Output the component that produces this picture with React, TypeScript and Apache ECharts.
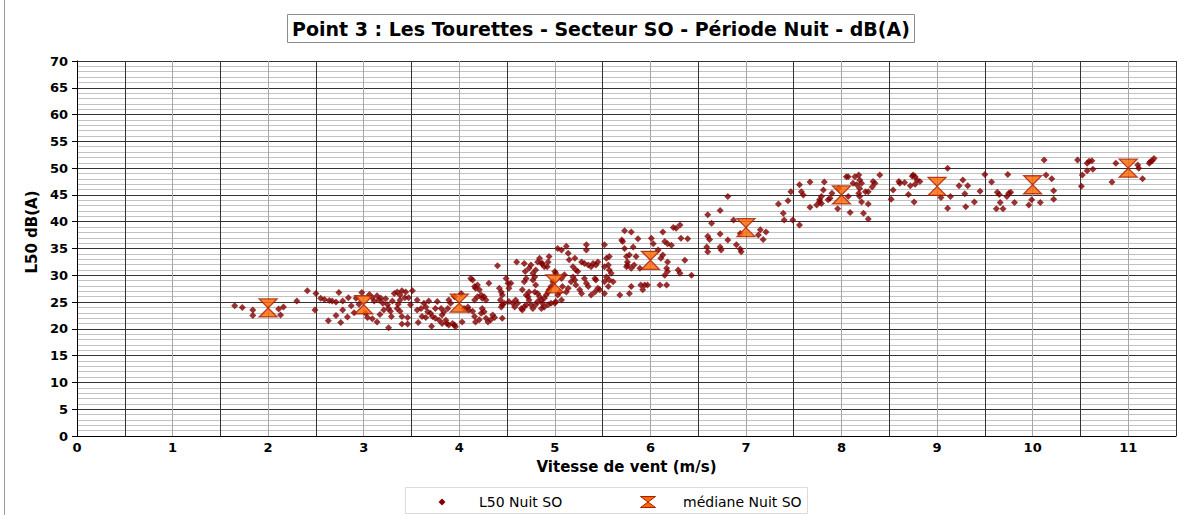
import React, { useEffect, useRef } from 'react';
import * as echarts from 'echarts';

const FONT = 'DejaVu Sans';

const titleText = 'Point 3 : Les Tourettes - Secteur SO - Période Nuit - dB(A)';
const xAxisName = 'Vitesse de vent (m/s)';
const yAxisName = 'L50 dB(A)';
const seriesL50Name = 'L50 Nuit SO';
const seriesMedianName = 'médiane Nuit SO';

// L50 scatter values [wind speed m/s, L50 dB(A)], grouped by wind-speed bin
const l50Bin2 = [[1.65,24.3],[1.73,24.0],[1.84,23.5],[1.84,22.5],[2.11,23.7],[2.16,24.1],[2.13,22.6],[2.30,25.2]];
const l50Bin3 = [[2.41,27.1],[2.50,26.6],[2.49,23.5],[2.55,25.7],[2.59,25.5],[2.64,25.3],[2.67,25.2],[2.74,26.8],[2.71,25.0],[2.78,25.2],[2.78,23.5],[2.71,22.5],[2.63,21.5],[2.76,21.2],[2.83,22.2],[2.84,25.8],[2.87,24.3],[2.92,25.7],[2.98,26.8],[2.95,24.6],[2.90,23.0],
  [3.06,26.4],[3.09,25.8],[3.11,25.2],[3.14,26.2],[3.16,25.4],[3.18,25.7],[3.20,24.8],[3.23,25.6],[3.25,24.5],[3.26,23.8],[3.28,23.3],[3.30,25.2],[3.32,26.6],[3.35,26.9],[3.38,26.3],[3.40,27.1],[3.44,26.9],[3.43,25.8],[3.38,25.4],[3.36,24.6],[3.35,23.8],[3.38,23.3],[3.40,22.3],[3.46,22.1],[3.46,20.9],[3.40,20.9],[3.26,20.2],[3.14,21.3],[3.09,21.9],[3.04,22.1],[3.02,22.9],[3.17,22.7],[3.21,23.5],[3.29,22.3]];
const l50Bin4 = [[3.57,21.2],[3.71,20.5],[3.49,24.5],[3.56,25.4],[3.60,23.8],[3.63,24.8],[3.65,24.1],[3.68,25.2],[3.67,23.2],[3.70,22.9],[3.72,22.3],[3.75,22.0],[3.79,21.6],[3.82,22.6],[3.86,21.6],[3.88,23.8],[3.89,25.4],[3.77,25.1],[3.81,23.8],[3.84,23.2],[3.75,23.8],[3.87,21.0],[3.82,21.0],[3.89,20.7],[3.51,27.1],[3.47,25.8],[3.56,23.5],[3.61,22.3],[3.65,22.1],
  [3.93,21.0],[3.95,20.7],[3.96,20.4],[3.91,24.8],[3.95,26.0],[4.02,26.6],[4.03,21.3],[4.05,23.8],[4.09,24.1],[4.10,23.5],[4.12,29.4],[4.14,29.1],[4.16,27.9],[4.17,27.6],[4.19,28.2],[4.21,27.3],[4.23,26.3],[4.24,25.7],[4.26,26.0],[4.28,25.4],[4.19,26.0],[4.16,25.4],[4.14,23.3],[4.16,22.3],[4.17,21.3],[4.21,21.7],[4.23,22.9],[4.26,23.2],[4.24,23.8],[4.28,22.0],[4.30,21.3],[4.33,21.7],[4.35,22.6],[4.37,22.1],[4.31,28.5],[4.40,31.8],[4.42,27.6],[4.44,26.9],[4.45,26.3],[4.43,25.4],[4.45,24.5],[4.47,24.8],[4.44,24.1],[4.45,22.0],[4.49,29.4]];
const l50Bin5 = [[4.51,28.5],[4.52,27.6],[4.54,28.5],[4.52,25.1],[4.56,24.8],[4.58,24.1],[4.61,24.8],[4.59,25.4],[4.65,23.8],[4.66,23.5],[4.68,24.1],[4.70,24.5],[4.66,27.3],[4.68,28.8],[4.70,29.4],[4.69,30.7],[4.68,32.2],[4.60,32.5],[4.73,31.3],[4.75,31.9],[4.77,30.4],[4.79,29.7],[4.80,31.0],[4.82,32.5],[4.84,33.2],[4.86,32.2],[4.77,29.1],[4.80,28.2],[4.79,26.9],[4.82,26.6],[4.84,26.0],[4.86,25.4],[4.87,24.8],[4.89,25.7],[4.91,26.3],[4.93,26.9],[4.94,27.3],[4.96,27.9],[4.98,28.8],[4.72,26.0],[4.73,25.4],[4.75,24.5],[4.77,23.8],[4.73,26.9],[4.70,26.3],[4.80,24.5],[4.82,25.1],[4.87,32.2],[4.89,31.6],[4.92,31.6],[4.93,32.5],[4.94,33.5],[5.00,30.7],[5.01,30.4],[5.03,35.0],[5.07,34.7],[5.12,35.4],[5.14,34.1],[5.15,32.9],[5.19,31.6],[5.21,33.2],[5.22,31.0],[5.24,30.7],[5.28,32.5],[5.31,32.2],[5.33,35.7],[5.33,34.7],[5.35,31.9],[5.38,31.6],[5.40,32.2],[5.43,31.9],[5.45,32.5],[5.31,29.4],[5.33,28.5],[5.35,27.9],[5.38,26.3],[5.42,26.9],[5.45,27.6],[5.19,29.7],[5.21,29.1],[5.22,28.2],[5.26,27.3],[5.28,26.6],[5.17,28.8],[5.14,27.6],[5.12,26.9],[5.08,27.9],[5.07,29.4],[5.10,30.1],[5.05,26.9],[5.03,26.3],[5.07,25.4],[5.01,25.1],[5.00,24.8],[4.96,24.8],[4.93,24.5],[4.89,24.1],[4.86,23.8],[5.42,29.4],[5.43,29.1],[5.47,27.3]];
const l50Bin6 = [[5.52,35.7],[5.54,33.2],[5.57,33.5],[5.52,31.6],[5.56,31.9],[5.57,31.0],[5.59,30.4],[5.54,29.7],[5.57,29.1],[5.52,28.8],[5.61,28.8],[5.56,27.9],[5.52,26.6],[5.68,26.3],[5.73,38.3],[5.80,38.1],[5.70,36.6],[5.71,36.3],[5.73,35.0],[5.82,35.3],[5.87,36.8],[5.75,33.5],[5.78,33.8],[5.76,32.5],[5.85,33.5],[5.83,31.9],[5.89,31.3],[5.76,31.9],[5.75,31.6],[5.80,31.3],[5.90,28.2],[5.94,28.2],[5.97,28.2],[5.78,26.6],[5.80,27.9],[5.92,27.3],[6.01,36.9],[6.03,35.9],[6.08,34.7],[6.10,28.2],[6.17,28.2],[6.13,38.1],[6.24,38.9],[6.27,38.8],[6.31,39.4],[6.18,35.9],[6.22,35.6],[6.15,36.3],[6.32,36.9],[6.39,36.8],[6.18,32.5],[6.17,31.3],[6.18,30.7],[6.15,30.0],[6.29,31.0],[6.31,30.4],[6.36,32.8],[6.43,30.0],[6.13,33.8],[6.11,33.2]];
const l50Bin7 = [[6.60,41.3],[6.64,39.7],[6.73,42.1],[6.81,44.7],[6.87,40.3],[6.60,37.3],[6.62,36.7],[6.73,37.7],[6.81,36.6],[6.59,35.3],[6.60,34.4],[6.73,35.3],[6.74,34.7],[6.90,35.7],[6.94,34.9],[6.95,34.4],[7.15,38.5],[7.21,38.1],[7.13,37.5],[7.18,36.7],[6.94,37.8],[7.34,43.3],[7.39,41.6],[7.40,40.3],[7.44,43.9],[7.47,45.6],[7.49,40.3]];
const l50Bin8 = [[7.56,39.4],[7.56,46.9],[7.58,45.6],[7.60,45.0],[7.67,47.4],[7.67,42.7],[7.74,43.1],[7.77,43.7],[7.79,44.7],[7.81,45.9],[7.82,47.4],[7.77,44.1],[7.86,44.1],[7.90,45.3],[7.97,46.2],[7.96,42.4],[8.09,41.7],[8.05,48.4],[8.07,48.4],[8.14,48.4],[8.18,48.7],[8.19,47.8],[8.21,47.2],[8.16,46.9],[8.12,47.2],[8.18,45.3],[8.19,44.7],[8.21,43.7],[8.23,41.6],[8.28,43.3],[8.28,40.5],[8.25,45.6],[8.28,45.6],[8.33,47.5],[8.35,47.2],[8.32,46.5],[8.40,48.7],[8.19,46.2],[7.88,44.4],[7.79,43.4],[8.07,44.7]];
const l50Bin9 = [[8.52,44.2],[8.54,45.9],[8.60,47.5],[8.61,47.2],[8.66,47.3],[8.70,45.1],[8.72,46.7],[8.74,48.5],[8.75,48.7],[8.77,48.4],[8.79,47.8],[8.82,47.5],[8.77,47.0],[8.76,43.7],[9.04,44.5],[9.11,50.0],[9.11,42.5],[9.14,44.7],[9.23,46.7],[9.27,47.8],[9.32,46.7],[9.29,45.2],[9.30,42.8],[9.39,43.7],[9.45,45.7]];
const l50Bin10 = [[9.50,48.8],[9.57,47.4],[9.63,45.5],[9.65,45.1],[9.74,48.8],[9.75,45.3],[9.77,45.5],[9.73,44.7],[9.66,43.6],[9.62,42.4],[9.69,42.4],[9.81,43.6],[9.96,43.1],[9.99,44.1],[10.08,43.6],[10.12,51.5],[10.14,48.7],[10.20,48.0],[10.22,45.8],[10.22,44.2],[10.47,51.5]];
const l50Bin11 = [[10.52,48.7],[10.51,46.6],[10.57,50.9],[10.59,51.3],[10.62,51.4],[10.57,49.5],[10.63,49.8],[10.87,50.9],[10.83,47.4],[11.10,50.6],[11.11,50.0],[11.15,48.0],[11.22,50.9],[11.25,51.4],[11.27,51.8],[11.23,51.2]];

// Median per integer wind speed
const medianSpeed = [2, 3, 4, 5, 6, 7, 8, 9, 10, 11];
const medianL50 = [23.9, 24.5, 24.8, 28.4, 32.8, 38.9, 45.0, 46.6, 46.9, 50.0];

const l50Data = [...l50Bin2, ...l50Bin3, ...l50Bin4, ...l50Bin5, ...l50Bin6, ...l50Bin7, ...l50Bin8, ...l50Bin9, ...l50Bin10, ...l50Bin11];
const medianData = medianSpeed.map((s, i) => [s, medianL50[i]]);

const POINT_COLOR = '#800000';
const MEDIAN_FILL = '#ff6600';
const MEDIAN_STROKE = '#a81e00';
const HOURGLASS = 'path://M0,0L20,0L10,10L20,20L0,20L10,10Z';

export default function App() {
  const ref = useRef<HTMLDivElement>(null);
  useEffect(() => {
    const chart = echarts.init(ref.current!, null, { renderer: 'svg' });
    const boldLabel = { fontFamily: FONT, fontWeight: 'bold', fontSize: 13, color: '#000' };
    chart.setOption({
      animation: false,
      backgroundColor: '#fff',
      title: {
        text: titleText,
        left: 287,
        top: 14,
        padding: [5, 5],
        borderColor: '#8c8c8c',
        borderWidth: 1,
        textStyle: { fontFamily: FONT, fontWeight: 'bold', fontSize: 19, color: '#000' },
      },
      grid: { left: 77, right: 21, top: 61, bottom: 79, containLabel: false },
      xAxis: {
        type: 'value',
        min: 0,
        max: 11.5,
        interval: 0.5,
        axisLine: { show: true, onZero: false, lineStyle: { color: '#000', width: 1 } },
        axisTick: { show: false },
        axisLabel: {
          ...boldLabel,
          margin: 5,
          formatter: (v: number) => (Number.isInteger(v) ? String(v) : ''),
        },
        splitLine: { show: true, lineStyle: { color: ['#a6a6a6', '#333333'], width: 1 } },
        name: xAxisName,
        nameLocation: 'middle',
        nameGap: 23,
        nameTextStyle: { fontFamily: FONT, fontWeight: 'bold', fontSize: 15, color: '#000' },
      },
      yAxis: {
        type: 'value',
        min: 0,
        max: 70,
        interval: 5,
        axisLine: { show: true, lineStyle: { color: '#000', width: 1 } },
        axisTick: { show: true, length: 5, lineStyle: { color: '#000' } },
        axisLabel: { ...boldLabel, margin: 9 },
        splitLine: { show: true, lineStyle: { color: '#333333', width: 1 } },
        minorTick: { show: false, splitNumber: 5 },
        minorSplitLine: { show: true, lineStyle: { color: '#c2c2c2', width: 1 } },
      },
      series: [
        {
          name: seriesL50Name,
          type: 'scatter',
          data: l50Data,
          symbol: 'diamond',
          symbolSize: 7,
          itemStyle: { color: POINT_COLOR },
          z: 2,
        },
        {
          name: seriesMedianName,
          type: 'scatter',
          data: medianData,
          symbol: HOURGLASS,
          symbolSize: [18, 18],
          itemStyle: { color: MEDIAN_FILL, borderColor: MEDIAN_STROKE, borderWidth: 1.3 },
          z: 3,
        },
      ],
      graphic: [
        { type: 'line', shape: { x1: 4.5, y1: 0, x2: 4.5, y2: 515 }, style: { stroke: '#9a9a9a', lineWidth: 1 } },
        {
          type: 'text', x: 32, y: 232, rotation: Math.PI / 2,
          style: { text: yAxisName, font: `bold 15px "${FONT}"`, fill: '#000', align: 'center', verticalAlign: 'middle' },
        },
        { type: 'rect', shape: { x: 405.5, y: 487.5, width: 402, height: 26 }, style: { fill: '#fff', stroke: '#dcdcdc', lineWidth: 1 } },
        { type: 'polygon', shape: { points: [[442, 498.5], [445.5, 502], [442, 505.5], [438.5, 502]] }, style: { fill: POINT_COLOR } },
        { type: 'text', x: 479, y: 502, style: { text: seriesL50Name, font: `14px "${FONT}"`, fill: '#000', verticalAlign: 'middle' } },
        { type: 'polygon', shape: { points: [[640.5, 496.5], [655.5, 496.5], [648, 502], [655.5, 507.5], [640.5, 507.5], [648, 502]] }, style: { fill: MEDIAN_FILL, stroke: MEDIAN_STROKE, lineWidth: 1 } },
        { type: 'text', x: 683, y: 502, style: { text: seriesMedianName, font: `14px "${FONT}"`, fill: '#000', verticalAlign: 'middle' } },
      ],
    });
    return () => chart.dispose();
  }, []);
  return <div ref={ref} style={{ position: 'absolute', left: 0, top: 0, width: 1197, height: 515 }} />;
}
